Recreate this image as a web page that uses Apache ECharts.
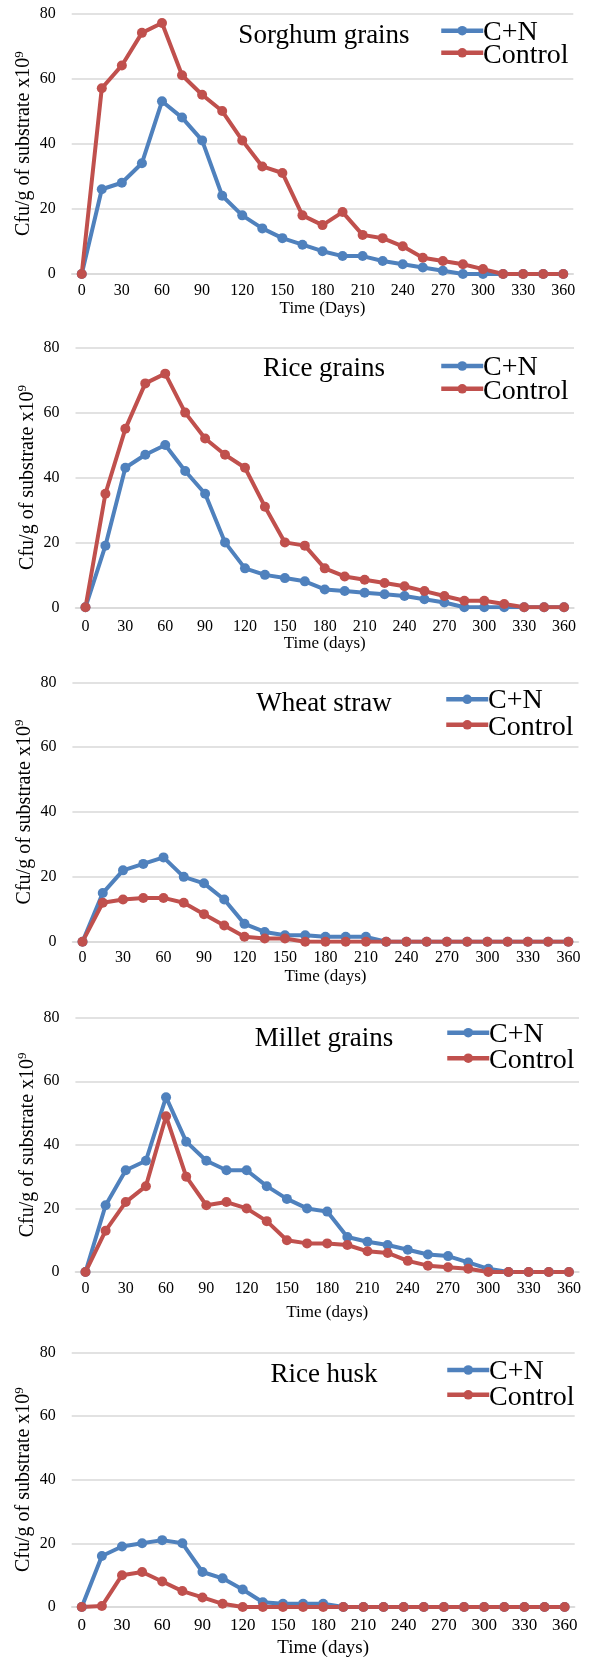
<!DOCTYPE html>
<html>
<head>
<meta charset="utf-8">
<script src="https://cdn.jsdelivr.net/npm/echarts@6/dist/echarts.min.js"></script>
<style>
html,body{margin:0;padding:0;background:#fff;}
#c{width:589px;height:1659px;}
</style>
</head>
<body>
<div id="c"></div>
<script>
// Categories (days)
const days = ['0','15','30','45','60','75','90','105','120','135','150','165','180','195','210','225','240','255','270','285','300','315','330','345','360'];
const yTicks = [0, 20, 40, 60, 80];
const seriesNames = ['C+N', 'Control'];
const panelTitles = ['Sorghum grains', 'Rice grains', 'Wheat straw', 'Millet grains', 'Rice husk'];
const xAxisNames = ['Time (Days)', 'Time (days)', 'Time (days)', 'Time (days)', 'Time (days)'];

// Sorghum grains
const sorghumCN      = [0,26,28,34,53,48,41,24,18,14,11,9,7,5.5,5.5,4,3,2,1,0,0,0,0,0,0];
const sorghumControl = [0,57,64,74,77,61,55,50,41,33,31,18,15,19,12,11,8.5,5,4,3,1.5,0,0,0,0];
// Rice grains
const riceCN         = [0,19,43,47,50,42,35,20,12,10,9,8,5.5,5,4.5,4,3.5,2.5,1.5,0,0,0,0,0,0];
const riceControl    = [0,35,55,69,72,60,52,47,43,31,20,19,12,9.5,8.5,7.5,6.5,5,3.5,2,2,1,0,0,0];
// Wheat straw
const wheatCN        = [0,15,22,24,26,20,18,13,5.5,3,2,2,1.5,1.5,1.5,0,0,0,0,0,0,0,0,0,0];
const wheatControl   = [0,12,13,13.5,13.5,12,8.5,5,1.5,1,1,0,0,0,0,0,0,0,0,0,0,0,0,0,0];
// Millet grains
const milletCN       = [0,21,32,35,55,41,35,32,32,27,23,20,19,11,9.5,8.5,7,5.5,5,3,1,0,0,0,0];
const milletControl  = [0,13,22,27,49,30,21,22,20,16,10,9,9,8.5,6.5,6,3.5,2,1.5,1,0,0,0,0,0];
// Rice husk
const huskCN         = [0,16,19,20,21,20,11,9,5.5,1.5,1,1,1,0,0,0,0,0,0,0,0,0,0,0,0];
const huskControl    = [0,0.3,10,11,8,5,3,1,0,0,0,0,0,0,0,0,0,0,0,0,0,0,0,0,0];

const panelData = [
  [sorghumCN, sorghumControl],
  [riceCN, riceControl],
  [wheatCN, wheatControl],
  [milletCN, milletControl],
  [huskCN, huskControl]
];

// Layout (pixels)
const layout = [
  {left: 71.7, right: 15.7, top: 13.3, height: 260.7, titleY: 33, legX: 439, legY: 30.7, legGap: 23.3, xNameGap: 26, labelMargin: 9, xFont: 16, xNameFont: 17},
  {left: 75.5, right: 15, top: 347.7, height: 259.6, titleY: 366, legX: 439, legY: 366, legGap: 24, xNameGap: 27, labelMargin: 11, xFont: 16, xNameFont: 17},
  {left: 72.4, right: 10.5, top: 682.3, height: 259.4, titleY: 700.7, legX: 444, legY: 699.3, legGap: 26.7, xNameGap: 26, labelMargin: 8, xFont: 16, xNameFont: 17},
  {left: 75.4, right: 10, top: 1017.7, height: 254.3, titleY: 1036, legX: 445, legY: 1032.7, legGap: 26.7, xNameGap: 32, labelMargin: 9, xFont: 16, xNameFont: 17},
  {left: 71.7, right: 14.3, top: 1352.3, height: 257, titleY: 1371.7, legX: 445, legY: 1370, legGap: 26, xNameGap: 32, labelMargin: 10, xFont: 17, xNameFont: 19}
];

const FONT = 'Liberation Serif';
const colors = ['#4F81BD', '#C0504D'];

const option = {
  animation: false,
  backgroundColor: '#fff',
  textStyle: {fontFamily: FONT},
  title: [], legend: [], grid: [], xAxis: [], yAxis: [], series: [], graphic: []
};

layout.forEach((L, i) => {
  option.grid.push({left: L.left, right: L.right, top: L.top, height: L.height, containLabel: false});
  option.title.push({
    text: panelTitles[i], left: 319, top: L.titleY - 15.5, textAlign: 'center',
    textStyle: {fontFamily: FONT, fontSize: 27, fontWeight: 'normal', color: '#000'}
  });
  // legend icons only; labels drawn as serif text
  option.legend.push({
    data: seriesNames, orient: 'vertical', left: L.legX, top: L.legY - 6, padding: 0,
    itemWidth: 42, itemHeight: 12, itemGap: L.legGap - 12,
    lineStyle: {width: 4.5},
    formatter: () => '',
    textStyle: {fontSize: 1},
    selectedMode: false
  });
  seriesNames.forEach((n, s) => {
    option.graphic.push({
      type: 'text', left: L.legX + 44, top: L.legY + s * L.legGap - 12.5, silent: true,
      style: {text: n, fontFamily: FONT, fontSize: 28, fill: '#000'}
    });
  });
  option.xAxis.push({
    type: 'category', gridIndex: i, data: days, boundaryGap: true,
    name: xAxisNames[i], nameLocation: 'middle', nameGap: L.xNameGap,
    nameTextStyle: {fontFamily: FONT, fontSize: L.xNameFont, color: '#000'},
    axisLine: {show: true, lineStyle: {color: '#D9D9D9', width: 1.5}},
    axisTick: {show: false},
    axisLabel: {interval: 1, margin: L.labelMargin, fontFamily: FONT, fontSize: L.xFont, color: '#000'}
  });
  option.yAxis.push({
    type: 'value', gridIndex: i, min: yTicks[0], max: yTicks[yTicks.length - 1], interval: 20,
    name: '{a|Cfu/g of substrate x10}{b|9}', nameLocation: 'middle', nameGap: 37,
    nameMoveOverlap: false,
    nameTextStyle: {
      fontFamily: FONT, fontSize: 20, color: '#000',
      rich: {
        a: {fontFamily: FONT, fontSize: 20, color: '#000', lineHeight: 22},
        b: {fontFamily: FONT, fontSize: 13, color: '#000', verticalAlign: 'top', lineHeight: 13}
      }
    },
    axisLine: {show: false}, axisTick: {show: false},
    splitLine: {lineStyle: {color: '#D9D9D9', width: 1.5}},
    axisLabel: {margin: 16, fontFamily: FONT, fontSize: 16, color: '#000'}
  });
  panelData[i].forEach((vals, s) => {
    option.series.push({
      name: seriesNames[s], type: 'line', xAxisIndex: i, yAxisIndex: i, data: vals,
      color: colors[s], symbol: 'circle', symbolSize: 10,
      lineStyle: {width: 4, color: colors[s]}, itemStyle: {color: colors[s]}
    });
  });
});

const chart = echarts.init(document.getElementById('c'), null, {renderer: 'canvas'});
chart.setOption(option);
</script>
</body>
</html>
